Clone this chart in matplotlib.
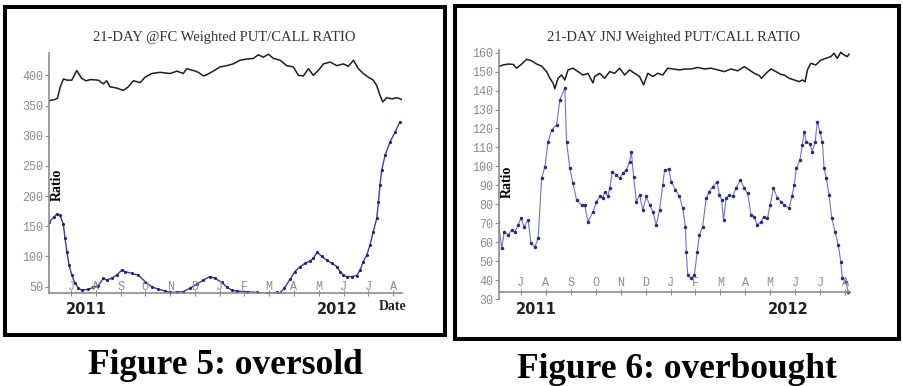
import matplotlib.pyplot as plt
from matplotlib.patches import Rectangle

# x positions are in months, 0 = July 2011
month_labels = ['J', 'A', 'S', 'O', 'N', 'D', 'J', 'F', 'M', 'A', 'M', 'J', 'J', 'A']

# ---- Figure 5: @FC ----
fc_price_x = [-0.89, -0.65, -0.55, -0.44, -0.31, -0.15, 0.03, 0.23, 0.43, 0.6, 0.8, 1.1, 1.3,
              1.44, 1.57, 1.84, 2.11, 2.31, 2.52, 2.79, 2.99, 3.26, 3.59, 4.0, 4.27, 4.53, 4.67,
              4.94, 5.14, 5.34, 5.48, 5.74, 6.02, 6.28, 6.55, 6.82, 7.09, 7.36, 7.56, 7.76, 7.97,
              8.17, 8.44, 8.71, 8.97, 9.18, 9.38, 9.58, 9.78, 9.98, 10.19, 10.46, 10.73, 10.99,
              11.2, 11.4, 11.6, 11.8, 12.0, 12.2, 12.34, 12.47, 12.58, 12.75, 12.95, 13.15, 13.35]
fc_price = [358, 360, 362, 380, 394, 392, 392, 408, 395, 391, 393, 392, 386,
            391, 381, 379, 375, 381, 391, 388, 397, 403, 405, 403, 407, 403, 411,
            408, 405, 399, 401, 407, 414, 416, 419, 425, 427, 428, 434, 430, 435,
            428, 425, 416, 414, 400, 399, 411, 400, 408, 419, 422, 416, 419,
            415, 425, 411, 403, 397, 392, 383, 367, 356, 363, 361, 363, 360]

fc_ratio_x = [-0.89, -0.7, -0.58, -0.44, -0.31, -0.24, -0.17, -0.08, 0.03, 0.16, 0.3, 0.43, 0.7,
              0.9, 1.1, 1.3, 1.44, 1.64, 1.84, 2.05, 2.18, 2.45, 2.72, 2.99, 3.26, 3.52, 3.79,
              4.0, 4.27, 4.53, 4.8, 5.07, 5.34, 5.61, 5.81, 6.08, 6.28, 6.49, 6.69, 7.09, 7.5,
              7.9, 8.3, 8.44, 8.6, 8.84, 9.04, 9.25, 9.45, 9.65, 9.78, 9.94, 10.12, 10.32, 10.52,
              10.73, 10.86, 10.99, 11.13, 11.33, 11.53, 11.67, 11.8, 11.94, 12.07, 12.2, 12.34,
              12.41, 12.47, 12.54, 12.68, 12.88, 13.08, 13.28]
fc_ratio = [157, 165, 170, 168, 153, 130, 108, 86, 69, 56, 47, 44.5, 45.5,
            49, 51.5, 64, 61, 64, 69, 77.5, 75, 72, 69, 58.5, 49.5, 46, 43,
            40.5, 41, 41.6, 47.4, 54, 61, 66.7, 64, 57.3, 49.6, 44, 42.6, 41.6, 40.5,
            39, 40.5, 40, 47, 62, 75, 83.3, 88.8, 92.6, 97, 107, 100, 94, 88.8,
            83.3, 75, 69.4, 66.7, 66.7, 68.3, 77.7, 91.6, 102.5, 119, 141, 163,
            190, 218, 243, 268, 290, 306, 323]

# ---- Figure 6: JNJ ----
jnj_price_x = [-0.91, -0.71, -0.51, -0.31, -0.17, 0.03, 0.23, 0.43, 0.63, 0.83, 1.03, 1.16, 1.29,
               1.36, 1.49, 1.63, 1.76, 1.89, 2.09, 2.29, 2.49, 2.69, 2.89, 2.96, 3.16, 3.36, 3.56,
               3.76, 3.96, 4.16, 4.36, 4.56, 4.76, 4.92, 5.09, 5.29, 5.49, 5.69, 5.89, 6.09, 6.36,
               6.63, 6.83, 7.09, 7.36, 7.63, 7.89, 8.16, 8.43, 8.69, 8.96, 9.16, 9.36, 9.56, 9.65,
               9.83, 10.03, 10.23, 10.43, 10.56, 10.76, 10.96, 11.16, 11.29, 11.4, 11.49, 11.63,
               11.83, 12.03, 12.23, 12.43, 12.56, 12.69, 12.83, 12.96, 13.09, 13.16]
jnj_price = [152.6, 153.5, 154, 153.8, 151.8, 154, 156.5, 155.7, 154, 152.9, 150, 146.5, 143.9,
             141, 146.5, 148.2, 145.6, 150.9, 151.8, 150, 148.2, 149, 144, 147.4, 149.1, 146.5, 150,
             149.1, 151.8, 148.2, 150.9, 149.1, 147.4, 143, 149.1, 147.4, 149.1, 148.2, 151.8, 151.4, 150.9,
             151.4, 151.4, 152.2, 151.4, 151.8, 150.9, 150, 151.4, 150.4, 152.6, 150.9, 149.1, 147.9, 146.5,
             149.1, 151.4, 150, 148.5, 148.2, 146.5, 145.6, 144.7, 145.6, 144.7, 150.9, 154.4,
             153.5, 156.1, 157, 157.9, 159.7, 157, 160.2, 158.8, 157.9, 159.2]

jnj_ratio_x = [-0.91, -0.77, -0.67, -0.51, -0.37, -0.24, -0.11, 0.0, 0.13, 0.29, 0.4, 0.56, 0.69,
               0.83, 0.96, 1.09, 1.23, 1.43, 1.56, 1.76, 1.83, 1.96, 2.09, 2.23, 2.43, 2.56, 2.69,
               2.89, 3.03, 3.16, 3.29, 3.36, 3.49, 3.56, 3.67, 3.83, 3.96, 4.09, 4.23, 4.36, 4.43,
               4.52, 4.63, 4.76, 4.89, 5.03, 5.16, 5.29, 5.43, 5.56, 5.69, 5.76, 5.93, 6.03, 6.2,
               6.36, 6.49, 6.6, 6.63, 6.69, 6.83, 6.96, 7.07, 7.16, 7.29, 7.43, 7.56, 7.69, 7.87,
               7.96, 8.05, 8.13, 8.23, 8.36, 8.49, 8.63, 8.8, 8.96, 9.09, 9.23, 9.36, 9.47, 9.63,
               9.76, 9.89, 10.0, 10.13, 10.29, 10.43, 10.56, 10.76, 10.87, 10.96, 11.05, 11.19,
               11.29, 11.36, 11.45, 11.59, 11.69, 11.8, 11.89, 11.99, 12.09, 12.16, 12.25, 12.36,
               12.47, 12.6, 12.73, 12.83, 12.89, 13.03, 13.13]
jnj_ratio = [70.8, 56.8, 65.5, 63.8, 66.4, 65.5, 69, 72.6, 68, 71.8, 59.4, 57.6, 62,
             93.7, 99.8, 113, 119.2, 121.8, 135, 141.2, 113, 99, 91, 82.3, 79.6, 79.6, 70.8,
             76, 81.4, 84.1, 83.2, 86.7, 84.1, 88.5, 97.2, 95.5, 93.7, 96.4, 98.1, 102.5, 107.8,
             94.6, 81.4, 84.9, 77, 84.1, 79.6, 76.1, 69, 77, 90.2, 98.1, 98.6, 92, 87.6,
             84.1, 77.9, 68.2, 55, 42.7, 41, 42.7, 55, 63.8, 68.2, 83.2, 86.7, 89.3, 91.9,
             84.9, 82.3, 71.7, 83.2, 84.9, 84.1, 88.5, 92.8, 88.5, 85.8, 74.4, 73.5, 69, 70.8,
             73.5, 72.6, 79.6, 88.5, 83.2, 81.4, 79.6, 77.9, 84.1, 90.2, 99, 103.4,
             111.3, 118.3, 112.9, 112, 107.8, 112.9, 123.6, 118.3, 112.9, 99, 93.7, 84.9,
             72.6, 65.5, 58.5, 49.7, 41, 39.2, 33.9]

W, H = 904, 386
fig = plt.figure(figsize=(W / 100, H / 100), dpi=100)
fig.patch.set_facecolor('white')

grey = '#8c8c8c'
mono = 'Liberation Mono'
serif = 'Liberation Serif'


def px(x, y):
    return x / W, 1 - y / H


def setup(ax, ylim, yticks, xlim, spine_y, letter_y):
    ax.set_xlim(*xlim)
    ax.set_ylim(*ylim)
    for s in ['top', 'right']:
        ax.spines[s].set_visible(False)
    for s in ['left', 'bottom']:
        ax.spines[s].set_color(grey)
        ax.spines[s].set_linewidth(1.2)
    ax.spines['bottom'].set_position(('data', spine_y))
    ax.set_yticks(yticks)
    ax.set_xticks(range(len(month_labels)))
    ax.tick_params(axis='x', direction='inout', length=5, color=grey, labelbottom=False)
    ax.tick_params(axis='y', direction='out', length=3, color=grey, pad=1,
                   labelsize=8.5, labelcolor=grey)
    for lab in ax.get_yticklabels():
        lab.set_family(mono)
    for i, m in enumerate(month_labels):
        ax.text(i, letter_y, m, transform=ax.get_xaxis_transform(), ha='center', va='center',
                color=grey, family=mono, fontsize=8.5)
    ax.set_facecolor('none')


# left chart
ax1 = fig.add_axes([49 / W, 1 - 293.3 / H, 353 / W, 240.3 / H])
setup(ax1, (39, 437), range(50, 401, 50), (-0.89, 13.36), 39, 0.028)
ax1.plot(fc_price_x, fc_price, color='#1e1e1e', lw=1.1)
ax1.plot(fc_ratio_x, fc_ratio, color='#3a3aa8', lw=1.0, marker='.', ms=2.5,
         markeredgecolor='#22227a')

# right chart
ax2 = fig.add_axes([499 / W, 1 - 299 / H, 351 / W, 249 / H])
setup(ax2, (30, 161.4), range(30, 161, 10), (-0.88, 13.2), 33.9, 0.064)
ax2.plot(jnj_price_x, jnj_price, color='#1e1e1e', lw=1.1)
ax2.plot(jnj_ratio_x, jnj_ratio, color='#7070d0', lw=0.8, marker='.', ms=3,
         markeredgecolor='#2a2a80', markerfacecolor='#2a2a80')

# titles
fig.text(*px(224, 37), '21-DAY @FC Weighted PUT/CALL RATIO', ha='center', va='center',
         family=serif, fontsize=10.5, color='#333333')
fig.text(*px(674, 37), '21-DAY JNJ Weighted PUT/CALL RATIO', ha='center', va='center',
         family=serif, fontsize=10.5, color='#333333')

# "Ratio" labels
fig.text(*px(57, 185), 'Ratio', rotation=90, ha='center', va='center',
         family=serif, weight='bold', fontsize=10)
fig.text(*px(507, 182), 'Ratio', rotation=90, ha='center', va='center',
         family=serif, weight='bold', fontsize=10)

# year labels
for x, t in [(86, '2011'), (337, '2012'), (536, '2011'), (788, '2012')]:
    fig.text(*px(x, 310), t, ha='center', va='center', family='DejaVu Sans',
             weight='bold', fontsize=10.5, color='#222222')
fig.text(*px(393, 307), 'Date', ha='center', va='center', family=serif,
         weight='bold', fontsize=10, color='#222222')

# panel frames
for x0, y0, x1, y1 in [(5, 7, 445, 335), (455, 5.5, 899, 339)]:
    fig.add_artist(Rectangle(px(x0, y1), (x1 - x0) / W, (y1 - y0) / H,
                             transform=fig.transFigure, fill=False,
                             edgecolor='black', lw=2.9))

# captions
fig.text(*px(225, 366), 'Figure 5: oversold', ha='center', va='center',
         family=serif, weight='bold', fontsize=25.5)
fig.text(*px(677, 369), 'Figure 6: overbought', ha='center', va='center',
         family=serif, weight='bold', fontsize=25.5)

fig.savefig('out.png', dpi=100)
